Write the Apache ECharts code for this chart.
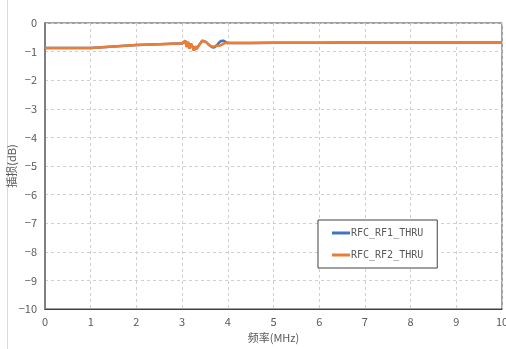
<!DOCTYPE html>
<html>
<head>
<meta charset="utf-8">
<script src="https://cdn.jsdelivr.net/npm/echarts@6/dist/echarts.min.js"></script>
<style>
  html, body { margin: 0; padding: 0; background: #fff; }
  #chart { width: 506px; height: 349px; }
</style>
</head>
<body>
<div id="chart"></div>
<script>
// Frequency points (MHz)
const freqMHz = [0, 0.5, 1.0, 1.5, 2.0, 2.5, 2.9, 3.0,
  3.04, 3.07, 3.10, 3.13, 3.16, 3.19, 3.22, 3.26, 3.29, 3.32, 3.36, 3.40,
  3.44, 3.48, 3.52, 3.56, 3.60, 3.65, 3.70, 3.75, 3.80, 3.85, 3.90, 3.95,
  4.0, 4.5, 5.0, 5.5, 6.0, 6.5, 7.0, 7.5, 8.0, 8.5, 9.0, 9.5, 10.0];

// Insertion loss (dB), RF1 path
const rf1Loss = [-0.87, -0.87, -0.87, -0.82, -0.77, -0.74, -0.72, -0.72,
  -0.72, -0.62, -0.84, -0.66, -0.90, -0.72, -0.80, -0.96, -0.82, -0.90, -0.80, -0.74,
  -0.62, -0.64, -0.66, -0.70, -0.78, -0.84, -0.86, -0.80, -0.70, -0.63, -0.62, -0.66,
  -0.70, -0.70, -0.69, -0.69, -0.69, -0.68, -0.68, -0.68, -0.68, -0.68, -0.68, -0.68, -0.68];

// Insertion loss (dB), RF2 path
const rf2Loss = [-0.87, -0.87, -0.87, -0.82, -0.77, -0.74, -0.72, -0.72,
  -0.72, -0.62, -0.84, -0.66, -0.90, -0.72, -0.80, -0.96, -0.82, -0.90, -0.80, -0.74,
  -0.62, -0.64, -0.66, -0.72, -0.78, -0.82, -0.82, -0.79, -0.80, -0.78, -0.73, -0.70,
  -0.70, -0.70, -0.69, -0.69, -0.69, -0.68, -0.68, -0.68, -0.68, -0.68, -0.68, -0.68, -0.68];

const seriesNames = ['RFC_RF1_THRU', 'RFC_RF2_THRU'];
const xAxisTitle = '频率(MHz)';
const yAxisTitle = '插损(dB)';

const pair = (xs, ys) => xs.map((x, i) => [x, ys[i]]);
const labelFont = '"Noto Sans CJK JP", "DejaVu Sans", sans-serif';

const chart = echarts.init(document.getElementById('chart'), null, { renderer: 'canvas' });
chart.setOption({
  animation: false,
  backgroundColor: '#ffffff',
  graphic: [
    { type: 'line', shape: { x1: 7.5, y1: 0, x2: 7.5, y2: 349 }, style: { stroke: '#d9d9d9', lineWidth: 1 } }
  ],
  grid: {
    left: 45, right: 4, top: 23, bottom: 40,
    containLabel: false, outerBoundsMode: 'none',
    show: true, borderColor: '#404040', borderWidth: 1, backgroundColor: 'transparent'
  },
  legend: {
    orient: 'vertical',
    left: 318, top: 220,
    padding: [8, 14, 8, 14],
    itemGap: 12,
    itemWidth: 18, itemHeight: 3,
    icon: 'rect',
    borderColor: '#404040', borderWidth: 1,
    backgroundColor: '#ffffff',
    textStyle: { color: '#595959', fontSize: 10, fontFamily: '"DejaVu Sans Mono", monospace', padding: [0, 0, 0, -4] },
    data: seriesNames
  },
  xAxis: {
    type: 'value', min: 0, max: 10, interval: 1,
    name: xAxisTitle, nameLocation: 'middle', nameGap: 20,
    nameTextStyle: { color: '#595959', fontSize: 11, fontFamily: labelFont },
    axisLine: { show: true, onZero: false, lineStyle: { color: '#404040', width: 1 } },
    axisTick: { show: false },
    axisLabel: { color: '#595959', fontSize: 11, fontFamily: labelFont, margin: 7 },
    splitLine: { show: true, lineStyle: { color: '#cfcfcf', type: [3, 3], width: 1 } }
  },
  yAxis: {
    type: 'value', min: -10, max: 0, interval: 1,
    name: yAxisTitle, nameLocation: 'middle', nameGap: 28, nameRotate: 90,
    nameMoveOverlap: false,
    nameTextStyle: { color: '#595959', fontSize: 11, fontFamily: labelFont },
    axisLine: { show: true, lineStyle: { color: '#7f7f7f', width: 2 } },
    axisTick: { show: false },
    axisLabel: {
      color: '#595959', fontSize: 11, fontFamily: labelFont, margin: 8,
      formatter: v => String(v).replace('-', '\u2212')
    },
    splitLine: { show: true, lineStyle: { color: '#cfcfcf', type: [3, 3], width: 1 } }
  },
  series: [
    {
      name: seriesNames[0], type: 'line', data: pair(freqMHz, rf1Loss),
      showSymbol: false, symbol: 'none',
      lineStyle: { color: '#4472c4', width: 2.5 }, itemStyle: { color: '#4472c4' }, z: 2
    },
    {
      name: seriesNames[1], type: 'line', data: pair(freqMHz, rf2Loss),
      showSymbol: false, symbol: 'none',
      lineStyle: { color: '#ed7d31', width: 2.5 }, itemStyle: { color: '#ed7d31' }, z: 3
    }
  ]
});
</script>
</body>
</html>
